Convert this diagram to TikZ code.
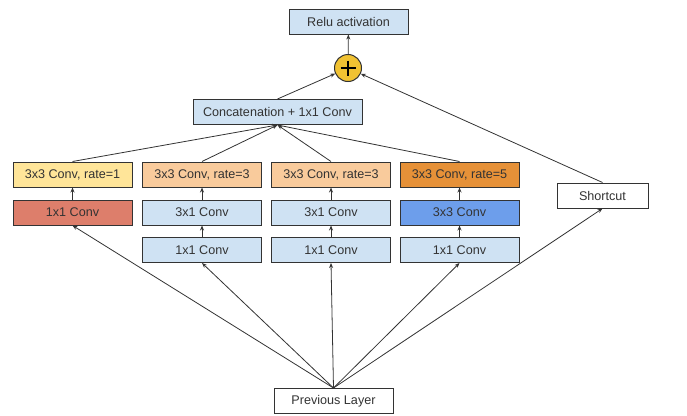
\documentclass[tikz,border=0pt]{standalone}
\usepackage{fontspec}
\setmainfont{Liberation Sans}
\usetikzlibrary{arrows.meta,calc}
\definecolor{bluel}{HTML}{CFE2F3}
\definecolor{bluem}{HTML}{6D9EEB}
\definecolor{yel}{HTML}{FFE599}
\definecolor{orl}{HTML}{F9CB9C}
\definecolor{ord}{HTML}{E69138}
\definecolor{redm}{HTML}{DD7E6B}
\definecolor{gold}{HTML}{F1C232}
\definecolor{edge}{HTML}{333333}
\tikzset{
  box/.style={draw=edge, line width=1pt, minimum width=119pt, minimum height=25pt, inner sep=0pt, font=\fontsize{12.6}{14}\selectfont, text=black!80},
  arr/.style={draw=edge, line width=0.8pt, -{Stealth[length=5pt,width=4pt]}},
}
\begin{document}
\begin{tikzpicture}[x=1pt,y=-1pt]
\useasboundingbox (0,0) rectangle (687,415);
% top
\node[box, fill=bluel] (relu) at (348.5,21.5) {Relu activation};
\node[circle, draw=edge, line width=1pt, fill=gold, minimum size=27pt, inner sep=0pt] (plus) at (348,68) {};
\draw[line width=2.8pt] ($(plus.center)+(-7.5,0)$) -- ($(plus.center)+(7.5,0)$);
\draw[line width=2.8pt] ($(plus.center)+(0,-7.5)$) -- ($(plus.center)+(0,7.5)$);
\node[box, fill=bluel, minimum width=169pt] (cat) at (277.5,112) {Concatenation + 1x1 Conv};
% column 1
\node[box, fill=yel] (a1) at (72.5,174.5) {3x3 Conv, rate=1};
\node[box, fill=redm] (b1) at (72.5,212.5) {1x1 Conv};
% column 2
\node[box, fill=orl] (a2) at (202,174.5) {3x3 Conv, rate=3};
\node[box, fill=bluel] (b2) at (202,212.5) {3x1 Conv};
\node[box, fill=bluel] (c2) at (202,250) {1x1 Conv};
% column 3
\node[box, fill=orl] (a3) at (331,174.5) {3x3 Conv, rate=3};
\node[box, fill=bluel] (b3) at (331,212.5) {3x1 Conv};
\node[box, fill=bluel] (c3) at (331,250) {1x1 Conv};
% column 4
\node[box, fill=ord] (a4) at (459.5,174.5) {3x3 Conv, rate=5};
\node[box, fill=bluem] (b4) at (459.5,212.5) {3x3 Conv};
\node[box, fill=bluel] (c4) at (459.5,250) {1x1 Conv};
% shortcut and input
\node[box, fill=white, minimum width=91pt] (sc) at (602.5,195.5) {Shortcut};
\node[box, fill=white] (prev) at (333.5,401) {Previous Layer};
% connectors
\draw[arr] (plus) -- (relu);
\draw[arr] (cat.north) -- (plus);
\draw[arr] (sc.north) -- (plus);
\foreach \n in {a1,a2,a3,a4} \draw[arr] (\n.north) -- (cat.south);
\draw[arr] (b1) -- (a1);
\draw[arr] (b2) -- (a2);
\draw[arr] (c2) -- (b2);
\draw[arr] (b3) -- (a3);
\draw[arr] (c3) -- (b3);
\draw[arr] (b4) -- (a4);
\draw[arr] (c4) -- (b4);
\draw[arr] (prev.north) -- (b1.south);
\draw[arr] (prev.north) -- (c2.south);
\draw[arr] (prev.north) -- (c3.south);
\draw[arr] (prev.north) -- (c4.south);
\draw[arr] (prev.north) -- (sc.south);
\end{tikzpicture}
\end{document}
